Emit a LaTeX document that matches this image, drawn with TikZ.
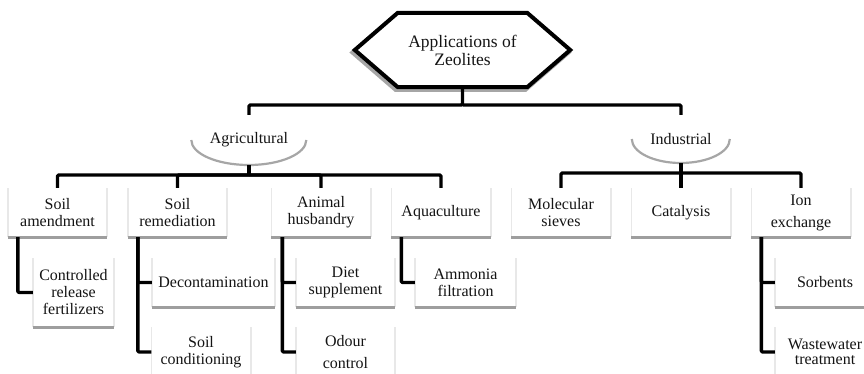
\documentclass[tikz,border=0pt]{standalone}
\usepackage{fontspec}
\setmainfont{Liberation Serif}
\usetikzlibrary{calc,shapes.geometric}
\begin{document}
\begin{tikzpicture}[x=1pt,y=-1pt,
  conn/.style={line width=3.4pt, draw=black, line join=round, rounded corners=1.2pt},
  shadowb/.style={line width=3pt, draw=black!38},
  shadows/.style={line width=1.6pt, draw=black!9},
  eshadow/.style={line width=2.2pt, draw=black!35},
  hexline/.style={line width=4pt, draw=black, line join=miter, fill=white},
  hexshadow/.style={line width=4.5pt, draw=black!35, line join=miter},
  txt/.style={font=\fontsize{16}{17}\selectfont, text=black!92},
  lbox/.style={txt, inner sep=0pt, align=center, minimum height=49pt, minimum width=99pt,
    append after command={
      (\tikzlastnode.south west) edge[shadows] (\tikzlastnode.north west)
      (\tikzlastnode.south east) edge[shadows] (\tikzlastnode.north east)
      (\tikzlastnode.south west) edge[shadowb] (\tikzlastnode.south east)}},
  oval/.style={txt, ellipse, inner sep=0pt, fill=white}
]
\fill[white] (0,0) rectangle (864,374);
\useasboundingbox (0,0) rectangle (864,374);

% root
\node[font=\fontsize{17.5}{18}\selectfont, text=black!92, align=center, minimum width=215pt, minimum height=74pt, inner sep=0pt] (hex) at (462.5,50) {};
\draw[hexshadow, transform canvas={shift={(-2pt,-2.5pt)}}] (hex.west) -- ($(hex.north west)+(43,0)$) -- ($(hex.north east)+(-43,0)$) -- (hex.east) -- ($(hex.south east)+(-43,0)$) -- ($(hex.south west)+(43,0)$) -- cycle;
\draw[hexline] (hex.west) -- ($(hex.north west)+(43,0)$) -- ($(hex.north east)+(-43,0)$) -- (hex.east) -- ($(hex.south east)+(-43,0)$) -- ($(hex.south west)+(43,0)$) -- cycle;
\node[font=\fontsize{17.5}{18}\selectfont, text=black!92, align=center, inner sep=0pt] at (hex.center) {Applications of\\Zeolites};

% categories
\node[oval, minimum width=115pt, minimum height=50pt] (agr) at (249,140) {Agricultural};
\draw[eshadow] (agr.west) arc[start angle=180, end angle=0, x radius=57.5, y radius=25];
\node[oval, minimum width=98pt, minimum height=48pt] (ind) at (681,139) {Industrial};
\draw[eshadow] (ind.west) arc[start angle=180, end angle=0, x radius=49, y radius=24];

% level 2
\node[lbox] (sa) at (57.5,212.5) {Soil\\amendment};
\node[lbox] (sr) at (177.5,212.5) {Soil\\remediation};
\node[lbox] (ah) at (321,212.5) {Animal\\husbandry};
\node[lbox] (aq) at (441,212.5) {Aquaculture};
\node[lbox] (ms) at (561,212.5) {Molecular\\sieves};
\node[lbox] (ca) at (681,212.5) {Catalysis};
\node[lbox] (ie) at (801,212.5) {Ion\\[5pt]exchange};

% level 3
\node[lbox, minimum width=81pt, minimum height=69pt] (cr) at (73.5,292.5) {Controlled\\release\\fertilizers};
\node[lbox, minimum width=123pt] (de) at (213.5,282.5) {Decontamination};
\node[lbox, minimum height=50pt] (sc) at (201,352) {Soil\\conditioning};
\node[lbox] (ds) at (345.5,282.5) {Diet\\supplement};
\node[lbox, minimum height=50pt] (oc) at (345.5,352) {Odour\\[5pt]control};
\node[lbox, minimum width=101pt] (af) at (465.5,282.5) {Ammonia\\filtration};
\node[lbox, minimum width=100pt] (so) at (825,282.5) {Sorbents};
\node[lbox, minimum width=100pt, minimum height=50pt] (ww) at (825,352) {Wastewater\\[-2pt]treatment};

% connectors
\coordinate (j0) at (462.5,105);
\draw[conn] (hex.south) -- (j0) -| (agr.north);
\draw[conn] (j0) -| (ind.north);

\coordinate (j1) at (249,175);
\draw[conn] (agr.south) -- (j1);
\draw[conn] (j1) -| (sa.north);
\draw[conn] (j1) -| (sr.north);
\draw[conn] (j1) -| (ah.north);
\draw[conn] (j1) -| (aq.north);

\coordinate (j2) at (681,173);
\draw[conn] (ind.south) -- (j2);
\draw[conn] (j2) -| (ms.north);
\draw[conn] (j2) -- (ca.north);
\draw[conn] (j2) -| (ie.north);

\draw[conn] ($(sa.south west)+(10,0)$) |- (cr.west);
\draw[conn] ($(sr.south west)+(10,0)$) |- (sc.west);
\draw[conn] ($(sr.south west)+(10,0)$) |- (de.west);
\draw[conn] ($(ah.south west)+(11,0)$) |- (oc.west);
\draw[conn] ($(ah.south west)+(11,0)$) |- (ds.west);
\draw[conn] ($(aq.south west)+(10,0)$) |- (af.west);
\draw[conn] ($(ie.south west)+(10,0)$) |- (ww.west);
\draw[conn] ($(ie.south west)+(10,0)$) |- (so.west);
\end{tikzpicture}
\end{document}
